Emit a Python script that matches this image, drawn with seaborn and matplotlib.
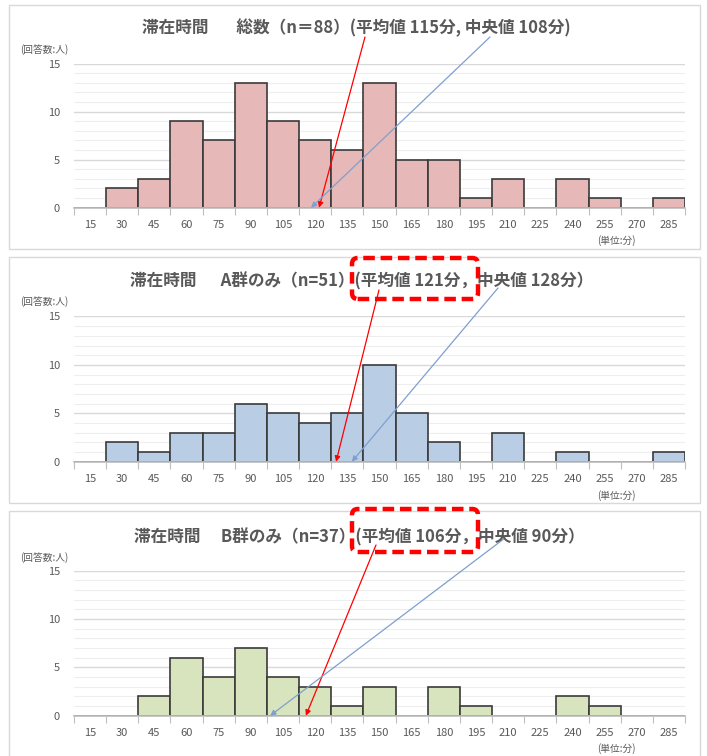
import numpy as np
import pandas as pd
import matplotlib.pyplot as plt
import seaborn as sns
from matplotlib.patches import Rectangle, FancyBboxPatch

# 滞在時間の区分（分）
bins = ['15', '30', '45', '60', '75', '90', '105', '120', '135', '150',
        '165', '180', '195', '210', '225', '240', '255', '270', '285']

# 各区分の回答数（人）
total_counts = [0, 2, 3, 9, 7, 13, 9, 7, 6, 13, 5, 5, 1, 3, 0, 3, 1, 0, 1]
group_a_counts = [0, 2, 1, 3, 3, 6, 5, 4, 5, 10, 5, 2, 0, 3, 0, 1, 0, 0, 1]
group_b_counts = [0, 0, 2, 6, 4, 7, 4, 3, 1, 3, 0, 3, 1, 0, 0, 2, 1, 0, 0]

titles = ['滞在時間　   総数（n＝88）(平均値 115分, 中央値 108分)',
          '滞在時間　  A群のみ（n=51）(平均値 121分，中央値 128分）',
          '滞在時間　 B群のみ（n=37）(平均値 106分，中央値 90分）']
colors = ['#E6B9B8', '#B9CDE5', '#D7E4BD']

# 矢印の先端（区分インデックス）
mean_pos = [7.12, 7.65, 6.71]
median_pos = [6.87, 8.14, 5.6]

W, H = 707, 756
GRAY = '#595959'

sns.set_theme(style='white')
plt.rcParams['font.family'] = ['Noto Sans CJK JP', 'DejaVu Sans']

fig = plt.figure(figsize=(W / 100, H / 100), dpi=100)


def fx(px):
    return px / W


def fy(py):
    return 1 - py / H


# 各パネルの配置（ピクセル）
panels = [
    dict(frame=(9, 5, 700, 249), top=63.5, bottom=207.7, title_x=356, title_y=28, unit_y=50, tan_y=241,
         red_from=(365, 37), blue_from=(490, 37)),
    dict(frame=(9, 257, 700, 503), top=316.5, bottom=461.7, title_x=362, title_y=281, unit_y=302, tan_y=496,
         red_from=(379, 290), blue_from=(498, 288)),
    dict(frame=(9, 511, 700, 760), top=570.7, bottom=715.7, title_x=359, title_y=537, unit_y=558, tan_y=749,
         red_from=(376, 545), blue_from=(505, 538)),
]
data = [total_counts, group_a_counts, group_b_counts]

for i, p in enumerate(panels):
    # パネル枠
    x0, y0, x1, y1 = p['frame']
    fig.add_artist(Rectangle((fx(x0), fy(y1)), fx(x1 - x0), (y1 - y0) / H,
                             fill=False, edgecolor='#d9d9d9', lw=1, zorder=-1))

    ax = fig.add_axes([fx(74), fy(p['bottom']), fx(685 - 74), (p['bottom'] - p['top']) / H])
    df = pd.DataFrame({'区分': bins, '人数': data[i]})
    sns.barplot(data=df, x='区分', y='人数', order=bins, color=colors[i],
                saturation=1, width=1.0, edgecolor='#3a3a3a', linewidth=1.2, ax=ax)

    ax.set_xlim(-0.5, len(bins) - 0.5)
    ax.set_ylim(0, 15)
    ax.set_yticks([0, 5, 10, 15])
    ax.set_yticks(np.arange(0, 16, 1), minor=True)
    ax.yaxis.grid(True, which='major', color='#d9d9d9', lw=1)
    ax.yaxis.grid(True, which='minor', color='#eeeeee', lw=0.8)
    ax.set_axisbelow(True)
    ax.set_xticks(np.arange(-0.5, len(bins), 1), minor=True)
    ax.tick_params(axis='x', which='major', length=0, pad=9, labelsize=8, labelcolor=GRAY)
    ax.tick_params(axis='x', which='minor', length=5, width=0.8, color='#bfbfbf', bottom=True)
    ax.tick_params(axis='y', which='both', length=0, pad=10, labelsize=8, labelcolor=GRAY)
    ax.set_xlabel('')
    ax.set_ylabel('')
    for s in ['left', 'right', 'top']:
        ax.spines[s].set_visible(False)
    ax.spines['bottom'].set_color('#bfbfbf')

    # タイトル・単位
    fig.text(fx(p['title_x']), fy(p['title_y']), titles[i], ha='center', va='center',
             fontsize=12, fontweight='bold', color=GRAY)
    fig.text(fx(20), fy(p['unit_y']), '(回答数:人)', ha='left', va='center',
             fontsize=7, color=GRAY)
    fig.text(fx(597), fy(p['tan_y']), '(単位:分)', ha='left', va='center',
             fontsize=7, color=GRAY)

    # 平均値・中央値の矢印
    ax.annotate('', xy=(mean_pos[i], 0), xycoords='data',
                xytext=(fx(p['red_from'][0]), fy(p['red_from'][1])), textcoords='figure fraction',
                arrowprops=dict(arrowstyle='-|>', color='#ff0000', lw=0.9,
                                mutation_scale=8, shrinkA=0, shrinkB=0),
                annotation_clip=False)
    ax.annotate('', xy=(median_pos[i], 0), xycoords='data',
                xytext=(fx(p['blue_from'][0]), fy(p['blue_from'][1])), textcoords='figure fraction',
                arrowprops=dict(arrowstyle='-|>', color='#7f9fd0', lw=0.9,
                                mutation_scale=8, shrinkA=0, shrinkB=0),
                annotation_clip=False)

# 平均値の強調枠
for (bx0, by0, bx1, by1) in [(352, 258, 478, 299), (352, 509, 478, 552)]:
    fig.add_artist(FancyBboxPatch((fx(bx0), fy(by1)), fx(bx1 - bx0), (by1 - by0) / H,
                                  boxstyle='round,pad=0,rounding_size=0.008',
                                  fill=False, edgecolor='#ff0000', lw=3.2,
                                  linestyle=(0, (2.6, 1.3)), zorder=5))

fig.savefig('out.png', dpi=100)
